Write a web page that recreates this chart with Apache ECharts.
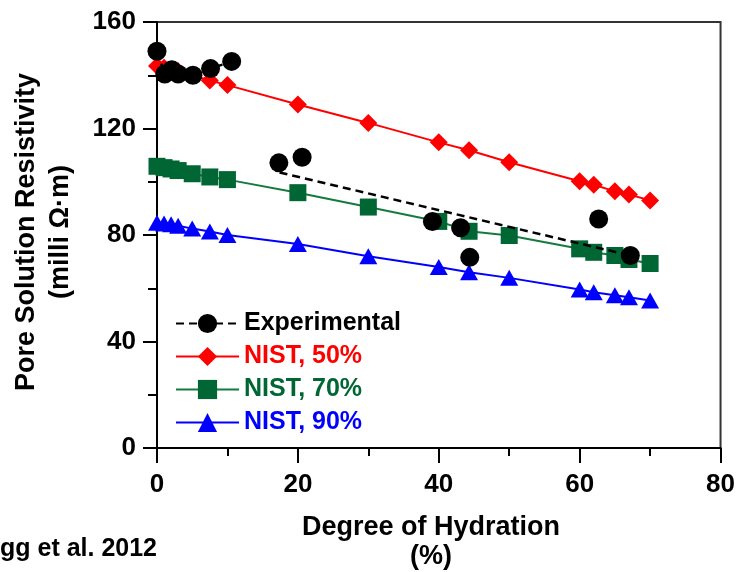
<!DOCTYPE html>
<html>
<head>
<meta charset="utf-8">
<script src="https://cdn.jsdelivr.net/npm/echarts@6/dist/echarts.min.js"></script>
<style>
  html, body { margin: 0; padding: 0; background: #fff; }
  #chart { width: 738px; height: 572px; }
</style>
</head>
<body>
<div id="chart"></div>
<script>
// Degree of hydration (%) used by the NIST model curves
const hydration = [0, 1, 2, 3, 5, 7.5, 10, 20, 30, 40, 44.3, 50, 60, 62, 65, 67, 70];
// Modelled pore solution resistivity (milli ohm-m) at three relative humidities
const nist50 = [143.5, 142.8, 142.2, 141.5, 140.0, 138.0, 136.3, 129.0, 122.1, 114.8, 111.8, 107.3, 100.2, 98.9, 96.4, 95.2, 93.0];
const nist70 = [105.8, 105.3, 104.8, 104.2, 103.0, 101.8, 100.8, 95.9, 90.5, 85.1, 81.4, 79.8, 74.8, 73.5, 72.3, 70.8, 69.3];
const nist90 = [84.6, 84.3, 84.0, 83.5, 82.4, 81.3, 80.0, 76.6, 72.0, 68.0, 66.0, 63.9, 59.5, 58.5, 57.4, 56.6, 55.4];

// Measured values: early-age readings (joined) and later readings
const expEarlyX = [0, 1.1, 2.1, 3.0, 5.1, 7.6, 10.6];
const expEarlyY = [149.0, 140.5, 142.1, 140.5, 140.0, 142.5, 145.2];
const expLateX = [17.3, 20.6, 39.1, 43.1, 44.4, 62.7, 67.2];
const expLateY = [107.1, 109.2, 85.1, 82.7, 71.6, 86.0, 72.3];
// Trend through the later readings (end points)
const trendX = [17.4, 67.2];
const trendY = [103.5, 72.3];

const xTicks = [0, 20, 40, 60, 80];
const yTicks = [0, 40, 80, 120, 160];

const pairs = (xs, ys) => xs.map((x, i) => [x, ys[i]]);

const FONT = 'Liberation Sans, Arial, sans-serif';
const RED = '#ff0000', GREEN = '#006633', BLUE = '#0000ff', BLACK = '#000000';

const chart = echarts.init(document.getElementById('chart'), null, { renderer: 'canvas' });

const axisCommon = {
  axisLine: { show: true, lineStyle: { color: BLACK, width: 2 } },
  splitLine: { show: false },
  minorSplitLine: { show: false },
  axisLabel: { color: BLACK, fontFamily: FONT, fontWeight: 'bold', fontSize: 26 }
};

chart.setOption({
  animation: false,
  backgroundColor: '#ffffff',
  grid: {
    left: 157, right: 14, top: 22, bottom: 124,
    show: true, borderColor: '#333333', borderWidth: 2
  },
  xAxis: Object.assign({}, axisCommon, {
    type: 'value',
    min: xTicks[0], max: xTicks[xTicks.length - 1], interval: 20,
    axisTick: { show: true, length: 15, lineStyle: { color: BLACK, width: 2 } },
    minorTick: { show: true, splitNumber: 2, length: 8, lineStyle: { color: BLACK, width: 2 } },
    axisLabel: Object.assign({}, axisCommon.axisLabel, { margin: 24 })
  }),
  yAxis: Object.assign({}, axisCommon, {
    type: 'value',
    min: yTicks[0], max: yTicks[yTicks.length - 1], interval: 40,
    axisTick: { show: true, length: 14, lineStyle: { color: BLACK, width: 2 } },
    minorTick: { show: true, splitNumber: 2, length: 9, lineStyle: { color: BLACK, width: 2 } },
    axisLabel: Object.assign({}, axisCommon.axisLabel, { margin: 21 })
  }),
  legend: {
    orient: 'vertical',
    left: 170, top: 306,
    itemWidth: 63, itemHeight: 24, itemGap: 8,
    textStyle: { fontFamily: FONT, fontWeight: 'bold', fontSize: 25 },
    data: [
      { name: 'Experimental', textStyle: { color: BLACK } },
      { name: 'NIST, 50%', textStyle: { color: RED } },
      { name: 'NIST, 70%', textStyle: { color: GREEN } },
      { name: 'NIST, 90%', textStyle: { color: BLUE } }
    ]
  },
  graphic: [
    {
      type: 'text', x: 27, y: 232, rotation: Math.PI / 2,
      style: { text: 'Pore Solution Resistivity', font: 'bold 27px ' + FONT, fill: BLACK, align: 'center', verticalAlign: 'middle' }
    },
    {
      type: 'text', x: 61, y: 232, rotation: Math.PI / 2,
      style: { text: '(milli \u03A9\u00B7m)', font: 'bold 27px ' + FONT, fill: BLACK, align: 'center', verticalAlign: 'middle' }
    },
    {
      type: 'text', x: 431, y: 528,
      style: { text: 'Degree of Hydration', font: 'bold 27px ' + FONT, fill: BLACK, align: 'center', verticalAlign: 'middle' }
    },
    {
      type: 'text', x: 431, y: 557,
      style: { text: '(%)', font: 'bold 27px ' + FONT, fill: BLACK, align: 'center', verticalAlign: 'middle' }
    },
    {
      type: 'text', x: 0, y: 549,
      style: { text: 'gg et al. 2012', font: 'bold 25px ' + FONT, fill: BLACK, align: 'left', verticalAlign: 'middle' }
    }
  ],
  series: [
    {
      name: 'Experimental', type: 'line', z: 5,
      data: pairs(expEarlyX, expEarlyY),
      symbol: 'circle', symbolSize: 19,
      itemStyle: { color: BLACK, opacity: 1 },
      lineStyle: { color: BLACK, width: 2.5, type: [8, 5] }
    },
    {
      name: 'NIST, 50%', type: 'line', z: 3,
      data: pairs(hydration, nist50),
      symbol: 'diamond', symbolSize: 18,
      itemStyle: { color: RED },
      lineStyle: { color: RED, width: 2 }
    },
    {
      name: 'NIST, 70%', type: 'line', z: 3,
      data: pairs(hydration, nist70),
      symbol: 'rect', symbolSize: 17,
      itemStyle: { color: GREEN },
      lineStyle: { color: '#157a3e', width: 2 }
    },
    {
      name: 'NIST, 90%', type: 'line', z: 3,
      data: pairs(hydration, nist90),
      symbol: 'triangle', symbolSize: [18, 16],
      itemStyle: { color: BLUE },
      lineStyle: { color: BLUE, width: 2 }
    },
    {
      name: 'Experimental', type: 'line', z: 4,
      data: pairs(trendX, trendY),
      symbol: 'none',
      lineStyle: { color: BLACK, width: 2.5, type: [8, 5] }
    },
    {
      name: 'Experimental', type: 'scatter', z: 5,
      data: pairs(expLateX, expLateY),
      symbol: 'circle', symbolSize: 19,
      itemStyle: { color: BLACK, opacity: 1 }
    }
  ]
});
</script>
</body>
</html>
